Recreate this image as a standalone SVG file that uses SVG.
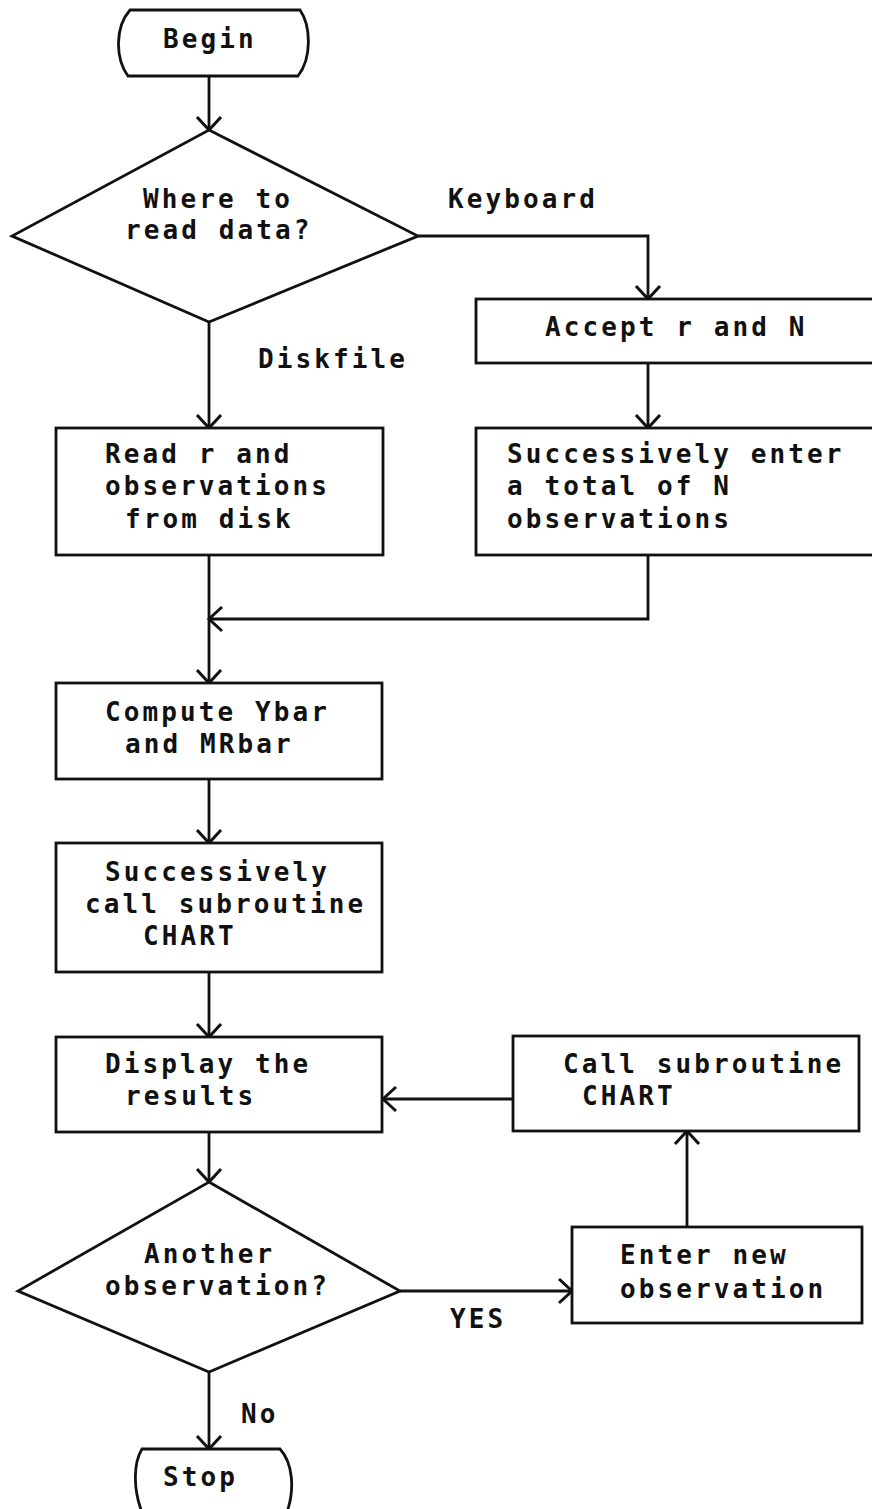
<svg xmlns="http://www.w3.org/2000/svg" width="872" height="1509" viewBox="0 0 872 1509">
<style>
.s{fill:none;stroke:#111;stroke-width:2.8;stroke-linejoin:miter}
.n{fill:#fff;stroke:#111;stroke-width:2.8}
.t{font-family:"DejaVu Sans Mono","Liberation Mono",monospace;font-size:26px;font-weight:bold;letter-spacing:3.1px;fill:#111}
</style>
<defs>
<marker id="arr" markerUnits="userSpaceOnUse" viewBox="-16 -16 32 32" refX="0" refY="0" markerWidth="32" markerHeight="32" orient="auto">
<path d="M-13,-12 L0,0 L-13,12" fill="none" stroke="#111" stroke-width="3"/>
</marker>
</defs>
<rect width="872" height="1509" fill="#fff"/>
<g id="connectors" class="s">
<line x1="209" y1="76" x2="209" y2="130" marker-end="url(#arr)"/>
<polyline points="418,236 648,236 648,299" marker-end="url(#arr)"/>
<line x1="209" y1="322" x2="209" y2="428" marker-end="url(#arr)"/>
<line x1="648" y1="363" x2="648" y2="428" marker-end="url(#arr)"/>
<polyline points="648,555 648,619 209,619" marker-end="url(#arr)"/>
<line x1="209" y1="555" x2="209" y2="683" marker-end="url(#arr)"/>
<line x1="209" y1="779" x2="209" y2="843" marker-end="url(#arr)"/>
<line x1="209" y1="972" x2="209" y2="1037" marker-end="url(#arr)"/>
<line x1="209" y1="1132" x2="209" y2="1182" marker-end="url(#arr)"/>
<line x1="513" y1="1099" x2="383" y2="1099" marker-end="url(#arr)"/>
<line x1="687" y1="1227" x2="687" y2="1131" marker-end="url(#arr)"/>
<line x1="400" y1="1291" x2="572" y2="1291" marker-end="url(#arr)"/>
<line x1="209" y1="1372" x2="209" y2="1449" marker-end="url(#arr)"/>
</g>
<g id="labels">
<text class="t" x="448" y="208">Keyboard</text>
<text class="t" x="258" y="368">Diskfile</text>
<text class="t" x="450" y="1328">YES</text>
<text class="t" x="241" y="1423">No</text>
</g>
<g id="begin">
<path class="n" d="M130,10 H300 C311,26 312,58 298,76 H128 C115,58 115,27 130,10 Z"/>
<text class="t" x="163" y="48">Begin</text>
</g>
<g id="where">
<polygon class="n" points="209,130 418,236 209,322 12,236"/>
<text class="t" x="143" y="208">Where to</text>
<text class="t" x="125" y="239">read data?</text>
</g>
<g id="accept">
<rect class="n" x="476" y="299" width="410" height="64"/>
<text class="t" x="545" y="336">Accept r and N</text>
</g>
<g id="read">
<rect class="n" x="56" y="428" width="327" height="127"/>
<text class="t" x="105" y="463">Read r and</text>
<text class="t" x="105" y="495">observations</text>
<text class="t" x="125" y="528">from disk</text>
</g>
<g id="enterall">
<rect class="n" x="476" y="428" width="410" height="127"/>
<text class="t" x="507" y="463">Successively enter</text>
<text class="t" x="507" y="495">a total of N</text>
<text class="t" x="507" y="528">observations</text>
</g>
<g id="compute">
<rect class="n" x="56" y="683" width="326" height="96"/>
<text class="t" x="105" y="721">Compute Ybar</text>
<text class="t" x="125" y="753">and MRbar</text>
</g>
<g id="callall">
<rect class="n" x="56" y="843" width="326" height="129"/>
<text class="t" x="105" y="881">Successively</text>
<text class="t" x="85" y="913">call subroutine</text>
<text class="t" x="143" y="945">CHART</text>
</g>
<g id="display">
<rect class="n" x="56" y="1037" width="326" height="95"/>
<text class="t" x="105" y="1073">Display the</text>
<text class="t" x="125" y="1105">results</text>
</g>
<g id="callchart">
<rect class="n" x="513" y="1036" width="346" height="95"/>
<text class="t" x="563" y="1073">Call subroutine</text>
<text class="t" x="582" y="1105">CHART</text>
</g>
<g id="another">
<polygon class="n" points="209,1182 400,1291 209,1372 18,1291"/>
<text class="t" x="144" y="1263">Another</text>
<text class="t" x="105" y="1295">observation?</text>
</g>
<g id="enternew">
<rect class="n" x="572" y="1227" width="290" height="96"/>
<text class="t" x="620" y="1264">Enter new</text>
<text class="t" x="620" y="1298">observation</text>
</g>
<g id="stop">
<path class="n" d="M142,1449 H280 C292,1462 296,1488 286,1515 H143 C132,1488 134,1462 142,1449 Z"/>
<text class="t" x="163" y="1486">Stop</text>
</g>
</svg>
